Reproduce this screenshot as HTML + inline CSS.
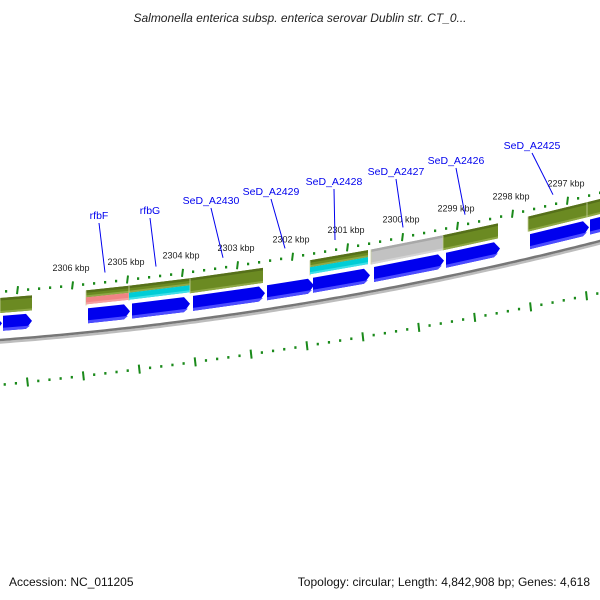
<!DOCTYPE html>
<html><head><meta charset="utf-8"><style>
html,body{margin:0;padding:0;background:#fff;}
svg{display:block;font-family:"Liberation Sans",sans-serif;}
</style></head><body>
<svg id="map" width="600" height="600" viewBox="0 0 600 600" xmlns="http://www.w3.org/2000/svg">
<text x="300" y="22" text-anchor="middle" font-size="12" font-style="italic" fill="#222">Salmonella enterica subsp. enterica serovar Dublin str. CT_0...</text>
<text x="9" y="586" font-size="12" fill="#111">Accession: NC_011205</text>
<text x="590" y="586" text-anchor="end" font-size="12" fill="#111">Topology: circular; Length: 4,842,908 bp; Genes: 4,618</text>
<g id="layer"></g>
</svg>
<script>
// ---- data ----
var kbpLabels = [2306, 2305, 2304, 2303, 2302, 2301, 2300, 2299, 2298, 2297];
var barStarts = [0, 86, 129, 190, 310, 371, 443, 528, 587];
var barEnds   = [32, 129, 190, 263, 368, 443, 498, 587, 605];
var barKinds  = ['green', 'red', 'cyan', 'green', 'cyan', 'gray', 'green', 'green', 'green'];
var cdsStarts = [-10, 3, 88, 132, 193, 267, 313, 374, 446, 530, 590];
var cdsEnds   = [2, 32, 130, 190, 265, 314, 370, 444, 500, 589, 612];
var geneNames = ['rfbF', 'rfbG', 'SeD_A2430', 'SeD_A2429', 'SeD_A2428', 'SeD_A2427', 'SeD_A2426', 'SeD_A2425'];
var geneLabelX = [99, 150, 211, 271, 334, 396, 456, 532];
var geneLabelY = [219, 214, 204, 195, 185, 175, 164, 149];
var geneTargetX = [105, 156, 223, 285, 335, 403, 465, 553];

// ---- axis helpers ----
function yb(x){ return 340 - 0.075*x - 0.00015*x*x; }
function yi(x){ return 384.8 - 0.1006*x - 0.0000877*x*x; }
function kbpX(k){ return 72 + (2306 - k)*55; }
function innerX(n){ return 27 + n*55.9; }
var NS='http://www.w3.org/2000/svg';
var layer=document.getElementById('layer');
function mk(tag, attrs){ var e=document.createElementNS(NS,tag); for(var k in attrs) e.setAttribute(k, attrs[k]); layer.appendChild(e); return e; }
function band(x1,x2,o1,o2){
  return [[x1,yb(x1)-o1],[x2,yb(x2)-o1],[x2,yb(x2)-o2],[x1,yb(x1)-o2]].map(function(p){return p[0].toFixed(1)+','+p[1].toFixed(1);}).join(' ');
}

// backbone
var d1='', d2='';
for(var x=-5;x<=605;x+=5){ d1+=(x===-5?'M':'L')+x+','+yb(x).toFixed(1)+' '; d2+=(x===-5?'M':'L')+x+','+(yb(x)+2.5).toFixed(1)+' '; }
var bs=mk('path',{d:d2,stroke:'#bdbdbd','stroke-width':2.5,fill:'none'});


var bb=mk('path',{d:d1,stroke:'#777','stroke-width':2.5,fill:'none'});



// outer ticks
for(var k=2308;k>=2295;k--){
  for(var s=0;s<5;s++){
    var tx=kbpX(k)+s*11;
    if(tx<-5||tx>605) continue;
    var t;
    if(s===0){ t=mk('line',{x1:tx,y1:yb(tx)-44.5,x2:tx+1,y2:yb(tx)-52.5,stroke:'#1a8a1a','stroke-width':2});  }
    else { t=mk('rect',{x:tx-1,y:yb(tx)-49.5,width:2.2,height:2.6,fill:'#1a8a1a'});  }
    
  }
}
kbpLabels.forEach(function(k){
  var lx=kbpX(k);
  var t=mk('text',{x:lx-1,y:(yb(lx)-63).toFixed(1),'text-anchor':'middle','font-size':9,fill:'#222'});
  t.textContent=k+' kbp';
  
  
});

// inner ticks
for(var n=-1;n<=11;n++){
  for(var s2=0;s2<5;s2++){
    var ix=innerX(n)+s2*11.18;
    if(ix<-5||ix>605) continue;
    var it;
    if(s2===0){ it=mk('line',{x1:ix,y1:yi(ix)-4.5,x2:ix+1,y2:yi(ix)+4.5,stroke:'#1a8a1a','stroke-width':2});  }
    else { it=mk('rect',{x:ix-1,y:yi(ix)-1.2,width:2.2,height:2.6,fill:'#1a8a1a'});  }
    
  }
}

// feature bars
var colors={green:['#6b8a22','#56701a','#8ea845'],gray:['#c2c2c2','#a8a8a8','#d4d4d4']};
var sub={red:['#f08484','#f4a0a0'],cyan:['#00cdd6','#40e0e8']};
barStarts.forEach(function(x1,i){
  var x2=barEnds[i], kind=barKinds[i];
  var base = kind==='gray'?colors.gray:colors.green;
  var low = (kind==='red'||kind==='cyan')?35:27;
  var g=mk('polygon',{points:band(x1,x2,low,42),fill:base[0]});
  
  
  var g2=mk('polygon',{points:band(x1,x2,39.5,42),fill:base[1]});
  
  
  var g3=mk('polygon',{points:band(x1,x2,low,low+2),fill:base[2]});
  
  
  var sep=mk('line',{x1:x1,y1:yb(x1)-27,x2:x1,y2:yb(x1)-42,stroke:'#c8d0a0','stroke-width':0.8});
  
  
  if(sub[kind]){
    var c=mk('polygon',{points:band(x1,x2,28,35),fill:sub[kind][0]});
    
    
    var c2=mk('polygon',{points:band(x1,x2,28,30),fill:sub[kind][1]});
    
    
  }
});

// CDS arrows
cdsStarts.forEach(function(x1,i){
  var x2=cdsEnds[i], h=x2-6;
  var pts=[[x1,9],[h,9],[x2,16.5],[h,24],[x1,24]].map(function(p){return p[0]+','+(yb(p[0])-p[1]).toFixed(1);}).join(' ');
  var a=mk('polygon',{points:pts,fill:'#0000ee'});
  
  
  var pts2=[[x1,9],[h,9],[x2-2,12],[x1,12]].map(function(p){return p[0]+','+(yb(p[0])-p[1]).toFixed(1);}).join(' ');
  var a2=mk('polygon',{points:pts2,fill:'#4c4cff'});
  
  
});

// gene labels
geneNames.forEach(function(nm,i){
  var lx=geneLabelX[i], ly=geneLabelY[i], tx=geneTargetX[i];
  var ln=mk('line',{x1:lx,y1:ly+4,x2:tx,y2:(yb(tx)-58).toFixed(1),stroke:'#0000ee','stroke-width':1});
  
  
  var t=mk('text',{x:lx,y:ly,'text-anchor':'middle','font-size':10.5,fill:'#0000ee'});
  t.textContent=nm;
  
  
});
</script>
</body></html>
